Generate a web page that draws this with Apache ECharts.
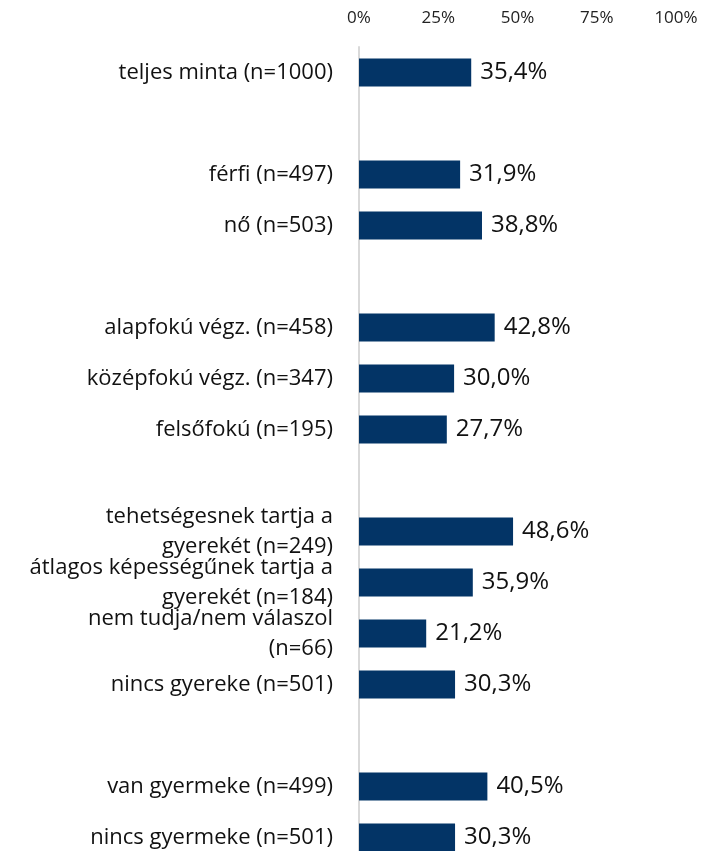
<!DOCTYPE html>
<html>
<head>
<meta charset="utf-8">
<script src="https://cdn.jsdelivr.net/npm/echarts@6/dist/echarts.min.js"></script>
<style>
  html, body { margin: 0; padding: 0; background: #fff; overflow: hidden; }
  #main { width: 713px; height: 863px; }
</style>
</head>
<body>
<div id="main"></div>
<script>
// csoportok, üres sorok a szünetekhez
var categories = [
    'teljes minta (n=1000)', '',
    'férfi (n=497)', 'nő (n=503)', '',
    'alapfokú végz. (n=458)', 'középfokú végz. (n=347)', 'felsőfokú (n=195)', '',
    'tehetségesnek tartja a\ngyerekét (n=249)', 'átlagos képességűnek tartja a\ngyerekét (n=184)',
    'nem tudja/nem válaszol\n(n=66)', 'nincs gyereke (n=501)', '',
    'van gyermeke (n=499)', 'nincs gyermeke (n=501)'
];
var values = [35.4, null, 31.9, 38.8, null, 42.8, 30.0, 27.7, null, 48.6, 35.9, 21.2, 30.3, null, 40.5, 30.3];
var ticks = [0, 25, 50, 75, 100];

var barColor = '#033466';
var font = 'Open Sans';

var chart = echarts.init(document.getElementById('main'));

var option = {
    backgroundColor: '#fff',
    grid: {
        left: 359,
        right: 37,
        top: 47,
        bottom: 0
    },
    xAxis: {
        type: 'value',
        position: 'top',
        min: ticks[0],
        max: ticks[ticks.length - 1],
        interval: 25,
        axisLine: { show: false },
        axisTick: { show: false },
        splitLine: { show: false },
        axisLabel: {
            formatter: '{value}%',
            fontFamily: font,
            fontSize: 17,
            color: '#222',
            margin: 20
        }
    },
    yAxis: {
        type: 'category',
        inverse: true,
        data: categories,
        axisLine: { show: true, lineStyle: { color: '#d9d9d9', width: 2 } },
        axisTick: { show: false },
        axisLabel: {
            fontFamily: font,
            fontSize: 22,
            color: '#111',
            margin: 26,
            align: 'right',
            lineHeight: 30
        }
    },
    series: [{
        type: 'bar',
        data: values,
        barWidth: 28,
        itemStyle: { color: barColor },
        label: {
            show: true,
            position: 'right',
            distance: 9,
            fontFamily: font,
            fontSize: 24,
            color: '#111',
            formatter: function (p) {
                return p.value.toFixed(1).replace('.', ',') + '%';
            }
        }
    }]
};

chart.setOption(option);
</script>
</body>
</html>
